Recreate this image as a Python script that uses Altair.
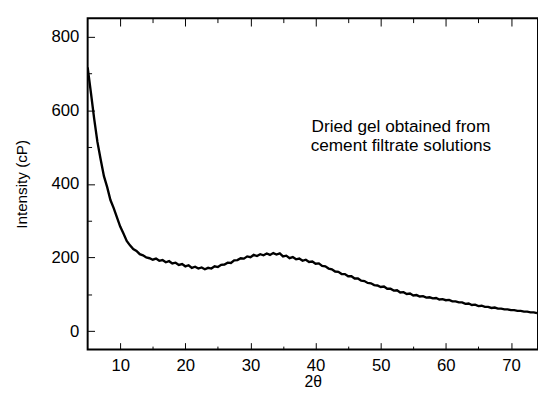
import altair as alt
import pandas as pd

# ---- data ----
two_theta_start = 5.0
two_theta_step = 0.5
intensity = [
    716, 648, 577, 514, 466, 421, 391, 356, 334, 309,
    284, 265, 245, 233, 223, 218, 209, 206, 200, 198,
    194, 197, 191, 193, 187, 190, 184, 186, 180, 182,
    176, 179, 172, 175, 170, 173, 168, 172, 170, 176,
    174, 180, 181, 186, 185, 192, 193, 198, 197, 203,
    201, 207, 204, 209, 206, 211, 207, 212, 208, 211,
    203, 205, 198, 201, 195, 197, 191, 194, 188, 189,
    183, 184, 177, 176, 170, 168, 162, 161, 155, 155,
    149, 149, 143, 143, 137, 136, 131, 130, 125, 124,
    120, 121, 115, 115, 110, 111, 105, 106, 101, 102,
    97, 98, 94, 95, 91, 92, 89, 90, 86, 87,
    84, 85, 81, 81, 78, 78, 74, 75, 71, 72,
    68, 69, 66, 66, 63, 64, 61, 61, 59, 59,
    57, 57, 55, 55, 53, 53, 51, 51, 49,
]
two_theta = [two_theta_start + two_theta_step * i for i in range(len(intensity))]

x_major = [10, 20, 30, 40, 50, 60, 70]
x_minor = [15, 25, 35, 45, 55, 65]
y_major = [0, 200, 400, 600, 800]
y_minor = [100, 300, 500, 700]
x_domain = [5, 74.15]
y_domain = [-50, 850]

annotation_text = "Dried gel obtained from\ncement filtrate solutions"
annotation_x = 53.1
annotation_y = 540

x_title = "2θ"
y_title = "Intensity (cP)"

FONT = "Liberation Sans"

df = pd.DataFrame({"two_theta": two_theta, "intensity": intensity})
ann = pd.DataFrame({"x": [annotation_x], "y": [annotation_y], "text": [annotation_text]})

xs = alt.Scale(domain=x_domain, nice=False, zero=False)
ys = alt.Scale(domain=y_domain, nice=False, zero=False)

base = alt.Chart(df)

line = base.mark_line(color="black", strokeWidth=2.4, clip=True).encode(
    x=alt.X("two_theta:Q", scale=xs, axis=alt.Axis(
        orient="bottom", values=x_major, ticks=False, grid=False, domain=False,
        labelFont=FONT, labelFontSize=17, labelColor="black", labelPadding=8,
        title=x_title, titleFont=FONT, titleFontSize=16, titleFontWeight="normal",
        titleColor="black", titlePadding=1)),
    y=alt.Y("intensity:Q", scale=ys, axis=alt.Axis(
        orient="left", values=y_major, ticks=False, grid=False, domain=False,
        labelFont=FONT, labelFontSize=17, labelColor="black", labelPadding=9,
        title=y_title, titleFont=FONT, titleFontSize=15.5, titleFontWeight="normal",
        titleColor="black", titlePadding=22)),
)


def tick_axis(orient, values, size):
    # inward ticks: the axis is moved inside the plot by its own tick length
    return alt.Axis(orient=orient, values=values, tickSize=size, offset=-size,
                    tickColor="black", domain=False, labels=False,
                    grid=False, title=None)


def tick_layer(x_axis, y_axis):
    return base.mark_line(opacity=0).encode(
        x=alt.X("two_theta:Q", scale=xs, axis=x_axis),
        y=alt.Y("intensity:Q", scale=ys, axis=y_axis),
    )


l_bottom_major = tick_layer(tick_axis("bottom", x_major, 7), None)
l_bottom_minor = tick_layer(tick_axis("bottom", x_minor, 3.5), None)
l_top_major = tick_layer(tick_axis("top", x_major, 8), tick_axis("left", y_major, 7))
l_top_minor = tick_layer(tick_axis("top", x_minor, 4.5), tick_axis("left", y_minor, 4))

text = alt.Chart(ann).mark_text(
    font=FONT, fontSize=17.5, color="black", align="center",
    baseline="alphabetic", lineBreak="\n", lineHeight=19.5,
).encode(
    x=alt.X("x:Q", scale=xs, axis=None),
    y=alt.Y("y:Q", scale=ys, axis=None),
    text="text:N",
)

chart = alt.layer(
    line, l_bottom_major, l_bottom_minor, l_top_major, l_top_minor, text
).resolve_axis(
    x="independent", y="independent"
).properties(
    width=458, height=337,
    autosize=alt.AutoSizeParams(type="none"),
    padding={"left": 81, "top": 7, "right": 0, "bottom": 50},
).configure_view(stroke="black", strokeWidth=2)

chart.save("out.html", embed_options={"renderer": "svg", "actions": False})
